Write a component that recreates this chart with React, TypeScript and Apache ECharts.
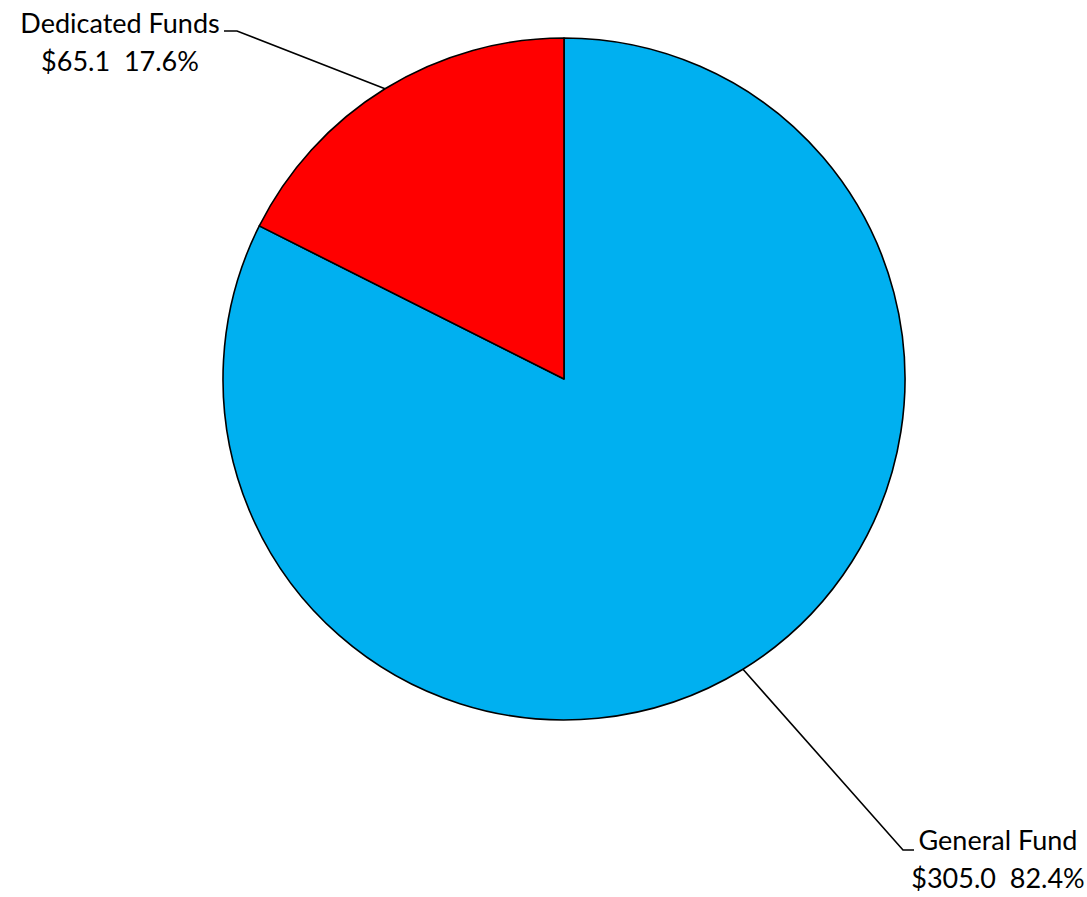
import React, { useEffect, useRef } from "react";
import * as echarts from "echarts";

const categories = ["General Fund", "Dedicated Funds"];
const values = [305.0, 65.1];
const colors = ["#00B0F0", "#FF0000"];

export default function App() {
  const ref = useRef<HTMLDivElement>(null);
  useEffect(() => {
    if (!ref.current) return;
    const chart = echarts.init(ref.current, null, { renderer: "svg" });
    const labelPos: Record<string, any> = {
      "General Fund": { x: 998, y: 858, lineY: 850, end: 914, elbow: 903 },
      "Dedicated Funds": { x: 120, y: 41, lineY: 31, end: 224, elbow: 237 },
    };
    chart.setOption({
      animation: false,
      backgroundColor: "#ffffff",
      series: [
        {
          type: "pie",
          center: [564, 379],
          radius: 341,
          startAngle: 90,
          clockwise: true,
          percentPrecision: 1,
          avoidLabelOverlap: false,
          data: categories.map((c, i) => ({
            name: c,
            value: values[i],
            itemStyle: { color: colors[i] },
          })),
          itemStyle: { borderColor: "#000000", borderWidth: 1.6 },
          label: {
            show: true,
            position: "outside",
            color: "#000000",
            fontFamily: "Lato, 'Open Sans', sans-serif",
            fontSize: 27,
            lineHeight: 38,
            align: "center",
            formatter: (p: any) =>
              `${p.name}\n$${Number(p.value).toFixed(1)}  ${Number(p.percent).toFixed(1)}%`,
          },
          labelLine: {
            show: true,
            lineStyle: { color: "#000000", width: 1.6 },
          },
          emphasis: { disabled: true },
          labelLayout: (params: any) => {
            const name = categories[params.dataIndex];
            const lp = labelPos[name];
            const start =
              params.labelLinePoints && params.labelLinePoints[0]
                ? params.labelLinePoints[0]
                : [lp.elbow, lp.lineY];
            return {
              x: lp.x,
              y: lp.y,
              align: "center",
              verticalAlign: "middle",
              labelLinePoints: [start, [lp.elbow, lp.lineY], [lp.end, lp.lineY]],
            };
          },
        },
      ],
    });
    return () => chart.dispose();
  }, []);
  return (
    <div
      ref={ref}
      style={{ position: "fixed", left: 0, top: 0, width: 1087, height: 897 }}
    />
  );
}
